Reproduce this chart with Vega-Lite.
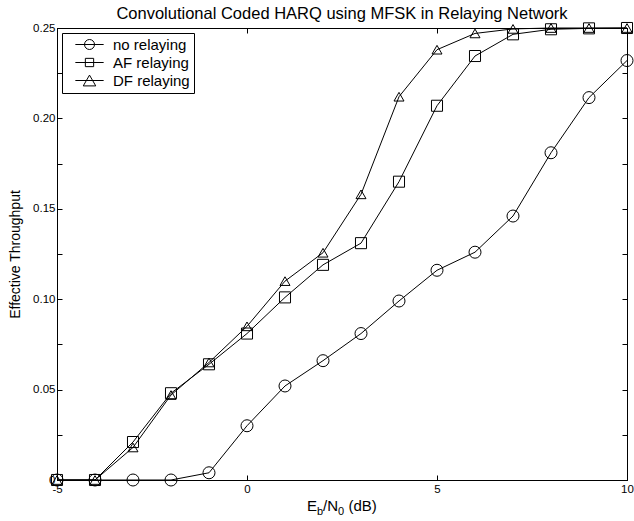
{
  "$schema": "https://vega.github.io/schema/vega-lite/v6.json",
  "width": 570,
  "height": 452,
  "autosize": {"type": "none"},
  "padding": {"left": 57, "top": 28, "right": 7, "bottom": 41},
  "background": "white",
  "title": {
    "text": "Convolutional Coded HARQ using MFSK in Relaying Network",
    "font": "Liberation Sans",
    "fontSize": 16.5,
    "fontWeight": "normal",
    "color": "black",
    "anchor": "middle",
    "frame": "group",
    "offset": 9,
    "dy": 11
  },
  "data": {
    "values": [
      {"series": "no relaying", "ebn0": -5, "throughput": 0},
      {"series": "no relaying", "ebn0": -4, "throughput": 0},
      {"series": "no relaying", "ebn0": -3, "throughput": 0},
      {"series": "no relaying", "ebn0": -2, "throughput": 0},
      {"series": "no relaying", "ebn0": -1, "throughput": 0.004},
      {"series": "no relaying", "ebn0": 0, "throughput": 0.030},
      {"series": "no relaying", "ebn0": 1, "throughput": 0.052},
      {"series": "no relaying", "ebn0": 2, "throughput": 0.066},
      {"series": "no relaying", "ebn0": 3, "throughput": 0.081},
      {"series": "no relaying", "ebn0": 4, "throughput": 0.099},
      {"series": "no relaying", "ebn0": 5, "throughput": 0.116},
      {"series": "no relaying", "ebn0": 6, "throughput": 0.126},
      {"series": "no relaying", "ebn0": 7, "throughput": 0.146},
      {"series": "no relaying", "ebn0": 8, "throughput": 0.181},
      {"series": "no relaying", "ebn0": 9, "throughput": 0.2115},
      {"series": "no relaying", "ebn0": 10, "throughput": 0.232},
      {"series": "AF relaying", "ebn0": -5, "throughput": 0},
      {"series": "AF relaying", "ebn0": -4, "throughput": 0},
      {"series": "AF relaying", "ebn0": -3, "throughput": 0.021},
      {"series": "AF relaying", "ebn0": -2, "throughput": 0.048},
      {"series": "AF relaying", "ebn0": -1, "throughput": 0.064},
      {"series": "AF relaying", "ebn0": 0, "throughput": 0.081},
      {"series": "AF relaying", "ebn0": 1, "throughput": 0.101},
      {"series": "AF relaying", "ebn0": 2, "throughput": 0.119},
      {"series": "AF relaying", "ebn0": 3, "throughput": 0.131},
      {"series": "AF relaying", "ebn0": 4, "throughput": 0.165},
      {"series": "AF relaying", "ebn0": 5, "throughput": 0.207},
      {"series": "AF relaying", "ebn0": 6, "throughput": 0.2345},
      {"series": "AF relaying", "ebn0": 7, "throughput": 0.2465},
      {"series": "AF relaying", "ebn0": 8, "throughput": 0.2493},
      {"series": "AF relaying", "ebn0": 9, "throughput": 0.2498},
      {"series": "AF relaying", "ebn0": 10, "throughput": 0.25},
      {"series": "DF relaying", "ebn0": -5, "throughput": 0},
      {"series": "DF relaying", "ebn0": -4, "throughput": 0},
      {"series": "DF relaying", "ebn0": -3, "throughput": 0.018},
      {"series": "DF relaying", "ebn0": -2, "throughput": 0.047},
      {"series": "DF relaying", "ebn0": -1, "throughput": 0.065},
      {"series": "DF relaying", "ebn0": 0, "throughput": 0.085},
      {"series": "DF relaying", "ebn0": 1, "throughput": 0.110},
      {"series": "DF relaying", "ebn0": 2, "throughput": 0.1257},
      {"series": "DF relaying", "ebn0": 3, "throughput": 0.158},
      {"series": "DF relaying", "ebn0": 4, "throughput": 0.212},
      {"series": "DF relaying", "ebn0": 5, "throughput": 0.238},
      {"series": "DF relaying", "ebn0": 6, "throughput": 0.247},
      {"series": "DF relaying", "ebn0": 7, "throughput": 0.2495},
      {"series": "DF relaying", "ebn0": 8, "throughput": 0.25},
      {"series": "DF relaying", "ebn0": 9, "throughput": 0.25},
      {"series": "DF relaying", "ebn0": 10, "throughput": 0.25}
    ]
  },
  "layer": [
    {
      "mark": {"type": "line", "color": "black", "strokeWidth": 1},
      "encoding": {
        "x": {
          "field": "ebn0", "type": "quantitative",
          "scale": {"domain": [-5, 10], "nice": false, "zero": false},
          "axis": {
            "orient": "bottom", "title": null, "values": [-5, 0, 5, 10],
            "tickSize": -5, "labelPadding": 8.5, "labelFlush": false,
            "labelExpr": "datum.value + ''"
          }
        },
        "y": {
          "field": "throughput", "type": "quantitative",
          "scale": {"domain": [0, 0.25], "nice": false},
          "axis": {
            "orient": "left", "title": "Effective Throughput", "titleFontSize": 14,
            "titleFontWeight": "normal", "titlePadding": 10,
            "values": [0, 0.025, 0.05, 0.075, 0.1, 0.125, 0.15, 0.175, 0.2, 0.225, 0.25],
            "tickSize": -5, "labelPadding": 7, "labelFlush": false,
            "labelExpr": "round(datum.value * 1000) % 50 == 0 ? (datum.value == 0 ? '0' : format(datum.value, '.2f')) : ''"
          }
        },
        "detail": {"field": "series"}
      }
    },
    {
      "mark": {"type": "point", "filled": false, "color": "black", "strokeWidth": 1, "opacity": 1},
      "encoding": {
        "x": {
          "field": "ebn0", "type": "quantitative",
          "scale": {"domain": [-5, 10], "nice": false, "zero": false},
          "axis": {"orient": "top", "title": null, "values": [-5, 0, 5, 10], "tickSize": -5, "labels": false}
        },
        "y": {
          "field": "throughput", "type": "quantitative",
          "scale": {"domain": [0, 0.25], "nice": false},
          "axis": {
            "orient": "right", "title": null,
            "values": [0, 0.025, 0.05, 0.075, 0.1, 0.125, 0.15, 0.175, 0.2, 0.225, 0.25],
            "tickSize": -5, "labels": false
          }
        },
        "shape": {
          "field": "series", "type": "nominal",
          "scale": {"domain": ["no relaying", "AF relaying", "DF relaying"], "range": ["circle", "square", "triangle-up"]},
          "legend": null
        },
        "size": {
          "field": "series", "type": "nominal",
          "scale": {"domain": ["no relaying", "AF relaying", "DF relaying"], "range": [144, 100, 225]},
          "legend": null
        }
      }
    },
    {
      "transform": [{"filter": "false"}],
      "mark": {"type": "point", "filled": false, "color": "black", "strokeWidth": 1, "size": 144},
      "encoding": {
        "x": {"field": "ebn0", "type": "quantitative", "axis": null},
        "y": {"field": "throughput", "type": "quantitative", "axis": null},
        "shape": {
          "field": "series", "type": "nominal",
          "scale": {
            "domain": ["no relaying", "AF relaying", "DF relaying"],
            "range": [
              "M-2.83,0H2.83M1,0A1,1 0 1,1 -1,0A1,1 0 1,1 1,0",
              "M-2.83,0H2.83M-0.83,-0.83H0.83V0.83H-0.83Z",
              "M-2.83,0H2.83M0,-1.08L1.25,1.08H-1.25Z"
            ]
          },
          "legend": {
            "title": null, "orient": "top-left", "offset": 5, "padding": 4,
            "symbolOffset": 16, "labelOffset": 16, "rowPadding": 2,
            "symbolStrokeColor": "black", "symbolStrokeWidth": 1, "symbolOpacity": 1,
            "strokeColor": "black", "fillColor": "white", "cornerRadius": 0,
            "labelFont": "Liberation Sans", "labelFontSize": 15, "labelColor": "black"
          }
        }
      }
    },
    {
      "data": {"values": [{"part": "E"}]},
      "mark": {"type": "text", "align": "left", "baseline": "alphabetic", "dx": -35, "dy": 31, "fontSize": 15, "font": "Liberation Sans", "color": "black"},
      "encoding": {"x": {"datum": 2.5, "axis": null}, "y": {"datum": 0, "axis": null}, "text": {"field": "part"}}
    },
    {
      "data": {"values": [{"part": "b"}]},
      "mark": {"type": "text", "align": "left", "baseline": "alphabetic", "dx": -25, "dy": 35, "fontSize": 11, "font": "Liberation Sans", "color": "black"},
      "encoding": {"x": {"datum": 2.5, "axis": null}, "y": {"datum": 0, "axis": null}, "text": {"field": "part"}}
    },
    {
      "data": {"values": [{"part": "/N"}]},
      "mark": {"type": "text", "align": "left", "baseline": "alphabetic", "dx": -19, "dy": 31, "fontSize": 15, "font": "Liberation Sans", "color": "black"},
      "encoding": {"x": {"datum": 2.5, "axis": null}, "y": {"datum": 0, "axis": null}, "text": {"field": "part"}}
    },
    {
      "data": {"values": [{"part": "0"}]},
      "mark": {"type": "text", "align": "left", "baseline": "alphabetic", "dx": -4, "dy": 35, "fontSize": 11, "font": "Liberation Sans", "color": "black"},
      "encoding": {"x": {"datum": 2.5, "axis": null}, "y": {"datum": 0, "axis": null}, "text": {"field": "part"}}
    },
    {
      "data": {"values": [{"part": "(dB)"}]},
      "mark": {"type": "text", "align": "left", "baseline": "alphabetic", "dx": 6.5, "dy": 31, "fontSize": 15, "font": "Liberation Sans", "color": "black"},
      "encoding": {"x": {"datum": 2.5, "axis": null}, "y": {"datum": 0, "axis": null}, "text": {"field": "part"}}
    }
  ],
  "resolve": {
    "axis": {"x": "independent", "y": "independent"},
    "scale": {"shape": "independent", "size": "independent"}
  },
  "config": {
    "view": {"stroke": "black", "strokeWidth": 1},
    "axis": {
      "grid": false,
      "domainColor": "black", "domainWidth": 1,
      "tickColor": "black", "tickWidth": 1,
      "labelColor": "black", "titleColor": "black",
      "labelFont": "Liberation Sans", "titleFont": "Liberation Sans",
      "labelFontSize": 11.5
    }
  }
}
